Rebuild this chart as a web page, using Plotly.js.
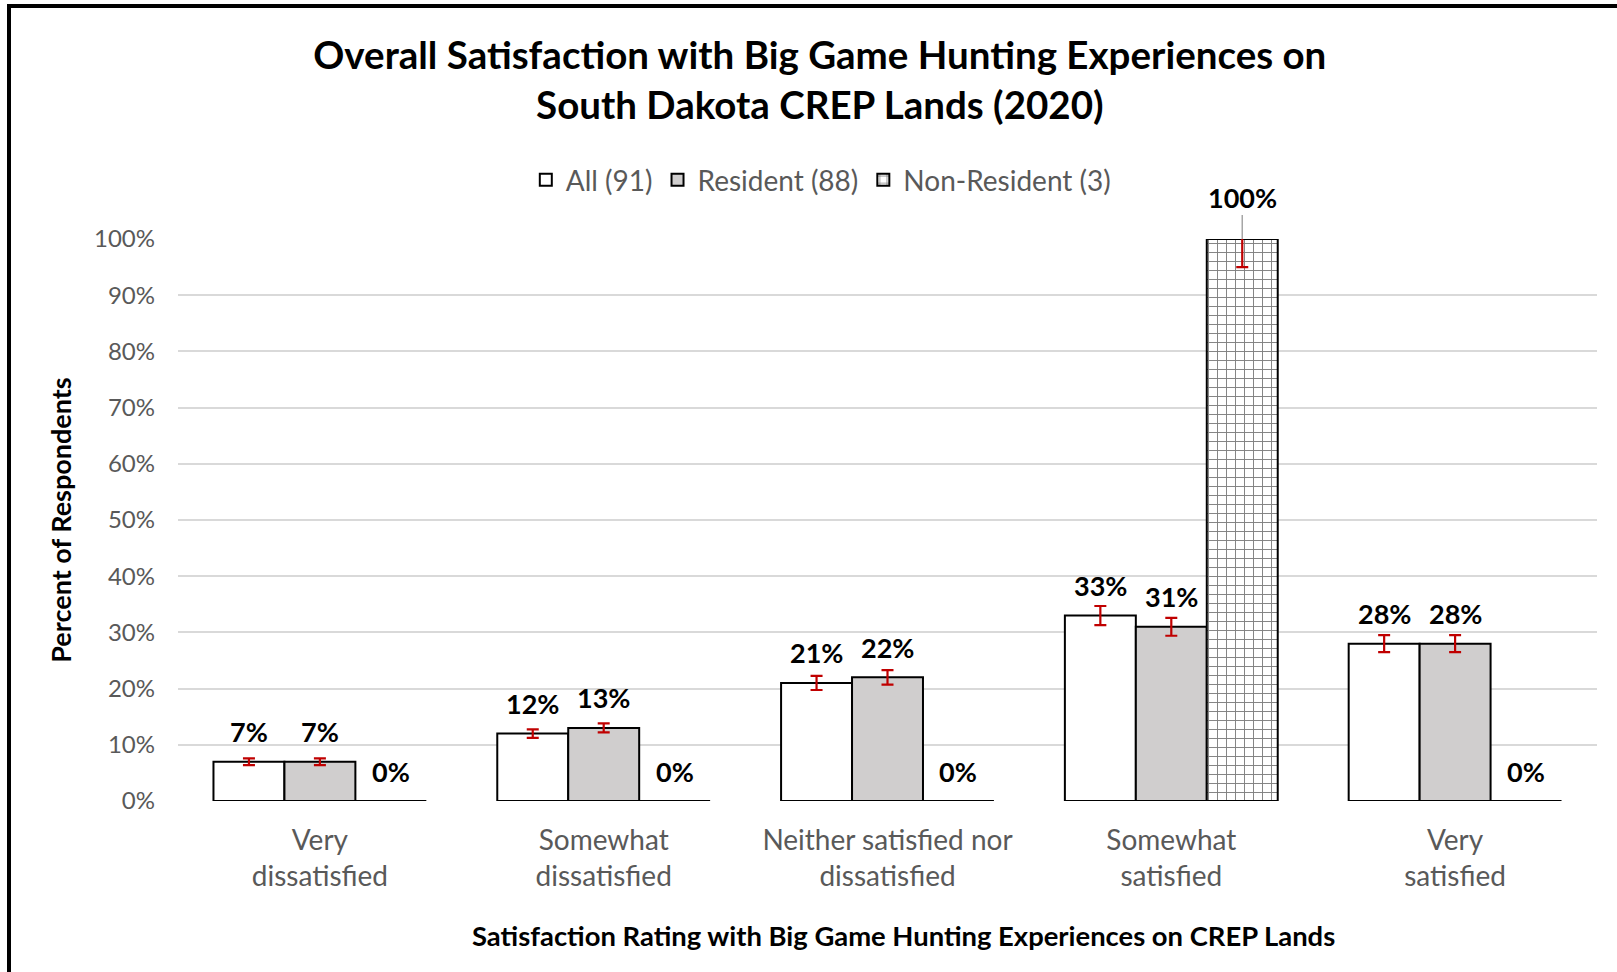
<!DOCTYPE html>
<html>
<head>
<meta charset="utf-8">
<script src="https://cdn.plot.ly/plotly-3.0.1.min.js"></script>
<style>
  html, body { margin: 0; padding: 0; background: #fff; }
  #chart { width: 1617px; height: 972px; position: absolute; left: 0; top: 0; }
  #frame { position: absolute; left: 7px; top: 4px; width: 1610px; height: 968px;
           border-left: 4px solid #000; border-top: 4px solid #000; pointer-events: none; }
</style>
</head>
<body>
<div id="chart"></div>
<div id="frame"></div>
<script>
// ---- data ----
const categories = ['Very<br>dissatisfied', 'Somewhat<br>dissatisfied', 'Neither satisfied nor<br>dissatisfied', 'Somewhat<br>satisfied', 'Very<br>satisfied'];
const seriesNames = ['All (91)', 'Resident (88)', 'Non-Resident (3)'];
const allValues = [7, 12, 21, 33, 28];
const residentValues = [7, 13, 22, 31, 28];
const nonResidentValues = [0, 0, 0, 100, 0];
const allErrors = [0.6, 0.75, 1.25, 1.7, 1.5];
const residentErrors = [0.6, 0.8, 1.3, 1.6, 1.5];
const nonResidentErrors = [0, 0, 0, 5, 0];
const yTickValues = [0, 10, 20, 30, 40, 50, 60, 70, 80, 90, 100];
const yTickLabels = yTickValues.map(v => v + '%');
const xAxisTitle = 'Satisfaction Rating with Big Game Hunting Experiences on CREP Lands';

// ---- styling ----
const FONT = 'Lato, "Open Sans", sans-serif';
const idx = categories.map((_, i) => i);
const seriesValues = [allValues, residentValues, nonResidentValues];
const seriesErrors = [allErrors, residentErrors, nonResidentErrors];
const fills = ['#FFFFFF', '#D0CECE', '#FFFFFF'];
const errColor = '#C00000';
const BARGAP = 0.25;
const nSeries = seriesValues.length;
const barW = (1 - BARGAP) / nSeries;

const traces = seriesValues.map((vals, s) => {
  const t = {
    type: 'bar',
    name: seriesNames[s],
    x: idx,
    y: vals,
    marker: { color: fills[s], line: { color: '#000000', width: 2 } },
    // zero-height bars carry no visible error bar
    error_y: { type: 'data', array: seriesErrors[s].map((e, i) => vals[i] > 0 ? e : undefined),
               visible: true, color: errColor, thickness: 2.2, width: 6 },
    hoverinfo: 'skip'
  };
  if (s === 2) {
    t.marker.pattern = { shape: '+', fgcolor: '#7F7F7F', bgcolor: '#FFFFFF', size: 9, solidity: 0.2, fillmode: 'replace' };
  }
  return t;
});

const annotations = [];
seriesValues.forEach((vals, s) => {
  vals.forEach((v, i) => {
    const xPos = i + (s - (nSeries - 1) / 2) * barW;
    const base = {
      x: xPos, y: v, xref: 'x', yref: 'y',
      text: '<b>' + v + '%</b>',
      font: { family: FONT, size: 27, color: '#000000' }
    };
    if (v >= 100) {
      Object.assign(base, { showarrow: true, arrowhead: 0, arrowwidth: 1.5, arrowcolor: '#A6A6A6', ax: 0, ay: -42, standoff: 0 });
    } else {
      Object.assign(base, { showarrow: false, yanchor: 'middle', yshift: 30 });
    }
    annotations.push(base);
  });
});
// x-axis title (centred on the chart area like the original)
annotations.push({
  xref: 'paper', yref: 'paper', x: 0.511, y: 0, yshift: -134,
  xanchor: 'center', yanchor: 'middle', showarrow: false,
  text: '<b>' + xAxisTitle + '</b>',
  font: { family: FONT, size: 27.4, color: '#000000' }
});

const layout = {
  width: 1617, height: 972,
  paper_bgcolor: '#FFFFFF', plot_bgcolor: '#FFFFFF',
  margin: { l: 178, r: 20, t: 239, b: 171, pad: 0 },
  font: { family: FONT, color: '#595959' },
  title: {
    text: '<b>Overall Satisfaction with Big Game Hunting Experiences on<br>South Dakota CREP Lands (2020)</b>',
    font: { family: FONT, size: 38.5, color: '#000000' },
    x: 0.507, xanchor: 'center', xref: 'container',
    y: 0.929, yanchor: 'middle', yref: 'container'
  },
  barmode: 'group', bargap: BARGAP, bargroupgap: 0,
  showlegend: true,
  legend: {
    orientation: 'h', x: 0.453, xanchor: 'center', y: 1.105, yanchor: 'middle',
    font: { family: FONT, size: 28, color: '#595959' },
    itemwidth: 30, traceorder: 'normal'
  },
  xaxis: {
    range: [-0.5, categories.length - 0.5],
    tickmode: 'array', tickvals: idx, ticktext: categories,
    tickfont: { family: FONT, size: 28, color: '#595959' },
    showgrid: false, zeroline: false, showline: false, ticks: '',
    ticklabelstandoff: 20
  },
  yaxis: {
    range: [0, 100],
    tickmode: 'array', tickvals: yTickValues, ticktext: yTickLabels,
    tickfont: { family: FONT, size: 24, color: '#595959' },
    showgrid: true, gridcolor: '#D9D9D9', gridwidth: 2,
    zeroline: false, showline: false, ticks: '',
    ticklabelstandoff: 22,
    title: { text: '<b>Percent of Respondents</b>', font: { family: FONT, size: 27, color: '#000000' }, standoff: 14 }
  },
  annotations: annotations
};

Plotly.newPlot('chart', traces, layout, { displayModeBar: false, staticPlot: true });
</script>
</body>
</html>
